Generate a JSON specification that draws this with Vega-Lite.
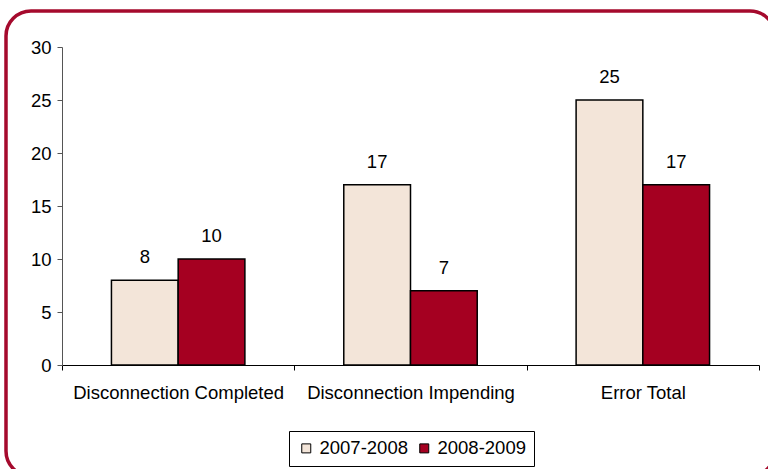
{
  "$schema": "https://vega.github.io/schema/vega-lite/v6.json",
  "width": 769,
  "height": 465,
  "autosize": {"type": "none"},
  "padding": {"left": 6, "top": 11, "right": -7, "bottom": -7},
  "background": "white",
  "config": {
    "view": {"stroke": "#a50a2d", "strokeWidth": 3.5, "cornerRadius": 25, "fill": "white"},
    "font": "Liberation Sans"
  },
  "data": {
    "values": [
      {"category": "Disconnection Completed", "period": "2007-2008", "value": 8},
      {"category": "Disconnection Completed", "period": "2008-2009", "value": 10},
      {"category": "Disconnection Impending", "period": "2007-2008", "value": 17},
      {"category": "Disconnection Impending", "period": "2008-2009", "value": 7},
      {"category": "Error Total", "period": "2007-2008", "value": 25},
      {"category": "Error Total", "period": "2008-2009", "value": 17}
    ]
  },
  "encoding": {
    "x": {
      "field": "category",
      "type": "nominal",
      "sort": ["Disconnection Completed", "Disconnection Impending", "Error Total"],
      "scale": {"range": [56, 753], "paddingInner": 0, "paddingOuter": 0},
      "axis": {
        "title": null,
        "offset": -111,
        "tickBand": "extent",
        "labelAngle": 0,
        "labelFontSize": 18.5,
        "labelLimit": 400,
        "tickSize": 5,
        "labelPadding": 13,
        "domainColor": "black",
        "tickColor": "black",
        "labelColor": "black",
        "grid": false
      }
    },
    "xOffset": {
      "field": "period",
      "type": "nominal",
      "scale": {"paddingInner": 0, "paddingOuter": 0.741}
    },
    "y": {
      "field": "value",
      "type": "quantitative",
      "scale": {"domain": [0, 30], "range": [354, 36], "nice": false, "zero": true},
      "axis": {
        "title": null,
        "values": [0, 5, 10, 15, 20, 25, 30],
        "offset": -56,
        "grid": false,
        "tickSize": 5,
        "labelFontSize": 18.5,
        "labelPadding": 6,
        "domainColor": "#555555",
        "tickColor": "#555555",
        "labelColor": "black"
      }
    }
  },
  "layer": [
    {
      "mark": {"type": "bar", "stroke": "black", "strokeWidth": 1.5},
      "encoding": {
        "color": {
          "field": "period",
          "type": "nominal",
          "scale": {"domain": ["2007-2008", "2008-2009"], "range": ["#f3e5d9", "#a50021"]},
          "legend": {
            "orient": "none",
            "legendX": 283,
            "legendY": 420,
            "direction": "horizontal",
            "title": null,
            "symbolType": "square",
            "symbolSize": 81,
            "symbolStrokeColor": "black",
            "symbolStrokeWidth": 1,
            "labelFontSize": 18.5,
            "labelColor": "black",
            "labelOffset": 4,
            "columnPadding": 7,
            "padding": 8,
            "strokeColor": "black",
            "fillColor": "white",
            "cornerRadius": 0
          }
        }
      }
    },
    {
      "mark": {"type": "text", "dy": -17, "baseline": "alphabetic", "fontSize": 18.5, "color": "black"},
      "encoding": {"text": {"field": "value", "type": "quantitative"}}
    }
  ]
}
